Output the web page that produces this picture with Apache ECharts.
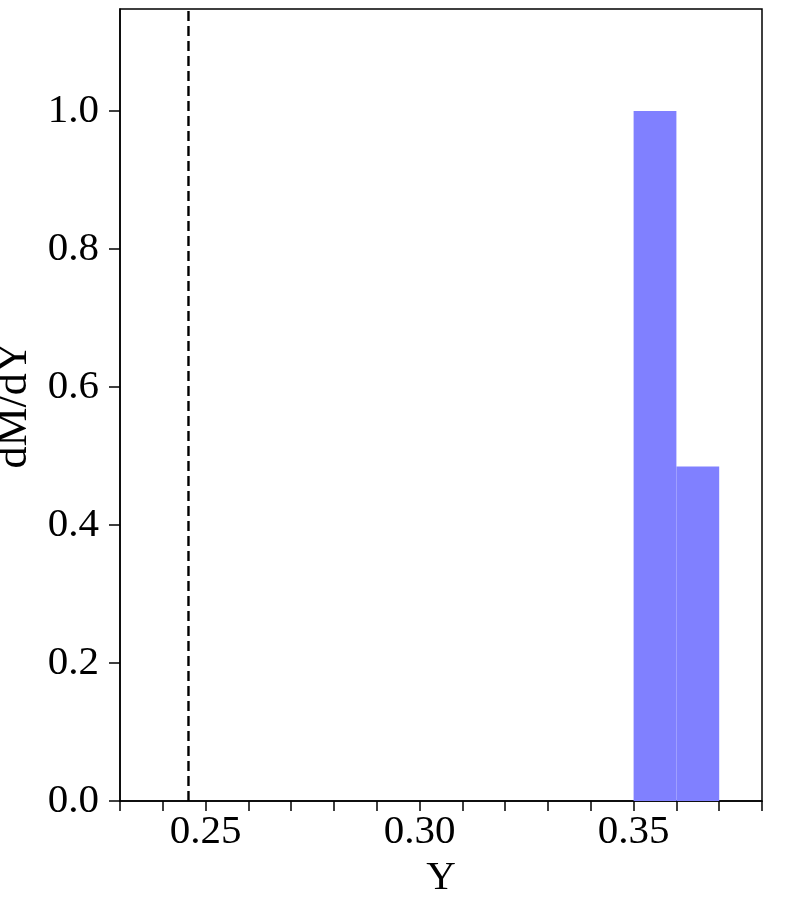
<!DOCTYPE html>
<html>
<head>
<meta charset="utf-8">
<script src="https://cdn.jsdelivr.net/npm/echarts@6/dist/echarts.min.js"></script>
<style>
  html, body { margin: 0; padding: 0; background: #fff; }
  #chart { width: 800px; height: 900px; }
</style>
</head>
<body>
<div id="chart"></div>
<script>
// histogram bins (left edge, right edge) and heights
const binLeft = [0.35, 0.36];
const binRight = [0.36, 0.37];
const binHeight = [1.0, 0.485];
// reference value (dashed line)
const refValue = 0.246;
// ticks
const xTicks = [0.23, 0.24, 0.25, 0.26, 0.27, 0.28, 0.29, 0.30, 0.31, 0.32, 0.33, 0.34, 0.35, 0.36, 0.37, 0.38];
const xLabels = [0.25, 0.30, 0.35];
const yTicks = [0, 0.2, 0.4, 0.6, 0.8, 1.0];
const yMax = 1.148;

const font = 'Liberation Serif';
const chart = echarts.init(document.getElementById('chart'));

const barData = binLeft.map((l, i) => [l, binRight[i], binHeight[i]]);

const option = {
  animation: false,
  grid: {
    left: 120,
    right: 38,
    top: 9,
    bottom: 99,
    outerBoundsMode: 'none',
    containLabel: false,
    show: true,
    borderColor: '#000',
    borderWidth: 1.5,
    backgroundColor: '#fff'
  },
  xAxis: {
    type: 'value',
    min: 0.23,
    max: 0.38,
    name: 'Y',
    nameLocation: 'middle',
    nameGap: 53,
    nameTextStyle: { fontFamily: font, fontSize: 41, color: '#000' },
    axisLine: { show: true, onZero: false, lineStyle: { color: '#000', width: 1.5 } },
    axisTick: { show: true, inside: false, length: 10, customValues: xTicks, lineStyle: { color: '#000', width: 1.5 } },
    axisLabel: {
      customValues: xLabels,
      margin: 11,
      fontFamily: font,
      fontSize: 41,
      color: '#000',
      formatter: v => v.toFixed(2)
    },
    splitLine: { show: false }
  },
  yAxis: {
    type: 'value',
    min: 0,
    max: yMax,
    name: 'dM/dY',
    nameLocation: 'middle',
    nameGap: 68,
    nameTextStyle: { fontFamily: font, fontSize: 44, color: '#000' },
    axisLine: { show: true, onZero: false, lineStyle: { color: '#000', width: 1.5 } },
    axisTick: { show: true, inside: false, length: 11, customValues: yTicks, lineStyle: { color: '#000', width: 1.5 } },
    axisLabel: {
      customValues: yTicks,
      margin: 21,
      fontFamily: font,
      fontSize: 41,
      color: '#000',
      formatter: v => v.toFixed(1)
    },
    splitLine: { show: false }
  },
  series: [
    {
      type: 'custom',
      data: barData,
      encode: { x: [0, 1], y: 2 },
      renderItem: (params, api) => {
        const p0 = api.coord([api.value(0), 0]);
        const p1 = api.coord([api.value(1), api.value(2)]);
        return {
          type: 'rect',
          shape: { x: p0[0], y: p1[1], width: p1[0] - p0[0], height: p0[1] - p1[1] },
          style: { fill: '#8080ff' }
        };
      }
    },
    {
      type: 'line',
      data: [[refValue, 0], [refValue, yMax]],
      symbol: 'none',
      silent: true,
      lineStyle: { color: '#000', type: [10, 5], width: 2.4 }
    }
  ]
};
chart.setOption(option);
</script>
</body>
</html>
